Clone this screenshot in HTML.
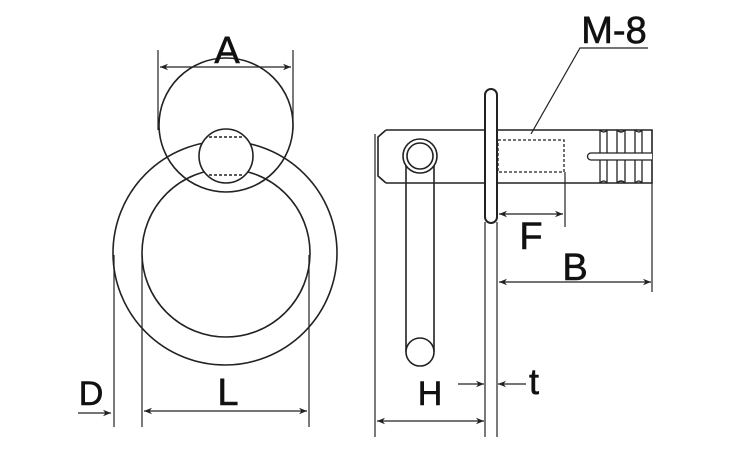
<!DOCTYPE html>
<html><head><meta charset="utf-8"><style>html,body{margin:0;padding:0;background:#fff}svg{display:block}</style></head><body>
<svg width="750" height="450" viewBox="0 0 750 450" xmlns="http://www.w3.org/2000/svg" font-family="Liberation Sans, sans-serif">
<defs>
<marker id="ar" viewBox="0 0 10 10" refX="10" refY="5" markerWidth="10" markerHeight="8" orient="auto-start-reverse" markerUnits="userSpaceOnUse"><path d="M0,1 L10,5 L0,9 L3,5 Z" fill="#222"/></marker>
</defs>
<g fill="none" stroke="#222" stroke-width="1.6">
<circle cx="225" cy="253" r="112"/>
<circle cx="226" cy="253" r="84"/>
<circle cx="226" cy="125" r="67"/>
<circle cx="226" cy="156" r="27" fill="#fff"/>
<line x1="209" y1="137" x2="243" y2="137" stroke-dasharray="3,2"/>
<line x1="209" y1="175" x2="243" y2="175" stroke-dasharray="3,2"/>
<line x1="158" y1="50" x2="158" y2="130" stroke-width="1.2"/>
<line x1="293" y1="50" x2="293" y2="130" stroke-width="1.2"/>
<line x1="160" y1="67" x2="291" y2="67" stroke-width="1.2" marker-start="url(#ar)" marker-end="url(#ar)"/>
<line x1="114" y1="255" x2="114" y2="427" stroke-width="1.2"/>
<line x1="142" y1="255" x2="142" y2="427" stroke-width="1.2"/>
<line x1="309" y1="255" x2="309" y2="427" stroke-width="1.2"/>
<line x1="144" y1="411" x2="307" y2="411" stroke-width="1.2" marker-start="url(#ar)" marker-end="url(#ar)"/>
<line x1="78" y1="413" x2="111" y2="413" stroke-width="1.2" marker-end="url(#ar)"/>
<!-- pin -->
<path d="M386,130 L652,130 L652,183 L386,183 M386,130 L378,137 L378,176 L386,183"/>
<path d="M600,130 L600,183 M607,130 L607,183 M617,130 L617,183 M625,130 L625,183 M635,130 L635,183 M642,130 L642,183" stroke-width="1.3"/>
<path d="M600,130 Q604,134 607,130 M617,130 Q621,134 625,130 M635,130 Q639,134 642,130 M600,183 Q604,179 607,183 M617,183 Q621,179 625,183 M635,183 Q639,179 642,183" stroke-width="1.3"/>
<path d="M652,153 L591,153 A3.5,3.5 0 0 0 591,160 L652,160" fill="#fff" stroke-width="1.3"/>
<rect x="498" y="140" width="66" height="32" stroke-dasharray="3,2" stroke-width="1.3"/>
<rect x="485" y="89" width="12" height="134" rx="6" fill="#fff" stroke-width="2"/>
<line x1="406" y1="165" x2="406" y2="352"/>
<line x1="434" y1="165" x2="434" y2="352"/>
<circle cx="420" cy="156" r="17" fill="#fff"/>
<circle cx="420" cy="156" r="13"/>
<circle cx="420" cy="352" r="14" fill="#fff"/>
<line x1="375" y1="134" x2="375" y2="437" stroke-width="1.2"/>
<line x1="485" y1="222" x2="485" y2="437" stroke-width="1.2"/>
<line x1="497" y1="222" x2="497" y2="437" stroke-width="1.2"/>
<line x1="377" y1="421" x2="484" y2="421" stroke-width="1.2" marker-start="url(#ar)" marker-end="url(#ar)"/>
<line x1="458" y1="384" x2="484" y2="384" stroke-width="1.2" marker-end="url(#ar)"/>
<line x1="526" y1="384" x2="498" y2="384" stroke-width="1.2" marker-end="url(#ar)"/>
<line x1="652" y1="183" x2="652" y2="292" stroke-width="1.2"/>
<line x1="499" y1="282" x2="651" y2="282" stroke-width="1.2" marker-start="url(#ar)" marker-end="url(#ar)"/>
<line x1="565" y1="172" x2="565" y2="227" stroke-width="1.2"/>
<line x1="499" y1="214" x2="563" y2="214" stroke-width="1.2" marker-start="url(#ar)" marker-end="url(#ar)"/>
<polyline points="531,134 580,48 648,48" stroke-width="1.2"/>
</g>
<g fill="#111" font-size="38" stroke="#111" stroke-width="0.6">
<text x="227" y="63" text-anchor="middle">A</text>
<text x="228" y="405" text-anchor="middle">L</text>
<text x="91" y="405" text-anchor="middle" font-size="34">D</text>
<text x="430" y="405" text-anchor="middle" font-size="34">H</text>
<text x="534" y="394" text-anchor="middle" font-size="36">t</text>
<text x="575" y="280" text-anchor="middle">B</text>
<text x="531" y="249" text-anchor="middle">F</text>
<text x="614" y="43" text-anchor="middle">M-8</text>
</g>
</svg>
</body></html>
